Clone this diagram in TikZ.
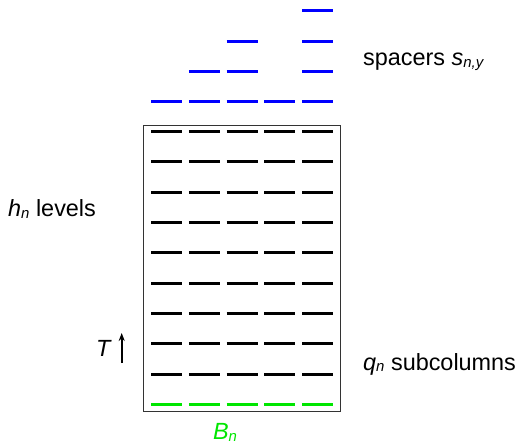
\documentclass[tikz,border=0pt]{standalone}
\usepackage{fontspec}
\setmainfont{Liberation Sans}
\usetikzlibrary{arrows.meta}
\newcommand\lbl{\fontsize{23.5}{27}\selectfont}
\newcommand\subs[1]{\raisebox{-2pt}{\fontsize{15}{15}\selectfont\itshape #1}}
\definecolor{spblue}{RGB}{0,0,255}
\definecolor{bgreen}{RGB}{0,230,0}
\begin{document}
\begin{tikzpicture}[x=1bp,y=-1bp,
  dashline/.style={line width=3.4bp},
  lab/.style={inner sep=0pt,font=\lbl}]
\useasboundingbox (0,0) rectangle (522,444);
\node[draw=black!80,line width=0.9bp,minimum width=196.7bp,minimum height=286bp,inner sep=0pt] (box) at (241.6,268) {};
% row y positions (k = 0 bottom green, 1..9 black, 10..13 spacers)
\def\rows{{404.5,374.5,343.5,313.5,283.5,252.5,222.5,192.5,161.5,131.5,101.5,71.5,41.5,10.5}}
\foreach \k in {0,...,9}{
  \foreach \i in {0,...,4}{
    \pgfmathsetmacro\cx{166.5+37.75*\i}
    \pgfmathsetmacro\cy{\rows[\k]}
    \ifnum\k=0
      \draw[dashline,bgreen] (\cx-15.5,\cy) -- (\cx+15.5,\cy);
    \else
      \draw[dashline,black] (\cx-15.5,\cy) -- (\cx+15.5,\cy);
    \fi
  }
}
% spacers
\foreach \k/\i in {10/0,10/1,10/2,10/3,10/4,11/1,11/2,11/4,12/2,12/4,13/4}{
  \pgfmathsetmacro\cx{166.5+37.75*\i}
  \pgfmathsetmacro\cy{\rows[\k]}
  \draw[dashline,spblue] (\cx-15.5,\cy) -- (\cx+15.5,\cy);
}
\node[lab,anchor=base west] (spc) at (363,66) {spacers \textit{s}\subs{n,y}};
\node[lab,anchor=base west] (lev) at (8,216.7) {\textit{h}\subs{n} levels};
\node[lab,anchor=base west] (sub) at (363,370) {\textit{q}\subs{n} subcolumns};
\node[lab,anchor=base,text=bgreen] (bn) at (225,439.5) {\textit{B}\subs{n}};
\node[lab,anchor=base east] (tt) at (112,356.7) {\textit{T}};
\coordinate (ta) at (121.7,363);
\coordinate (tb) at (121.7,333);
\draw[line width=1.6bp,-{Stealth[length=8bp,width=6bp]}] (ta) -- (tb);
\end{tikzpicture}
\end{document}
